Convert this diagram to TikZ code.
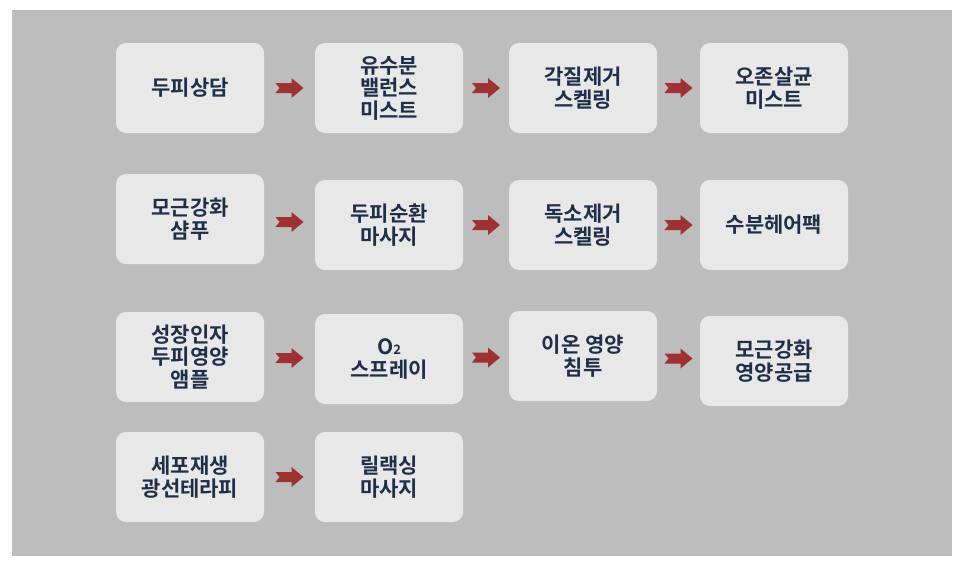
\documentclass[tikz,border=0pt]{standalone}
\usepackage{fontspec}
\setmainfont{Noto Sans CJK KR}[BoldFont={Noto Sans CJK KR Bold}]
\usetikzlibrary{calc}
\definecolor{boxgray}{HTML}{E8E8E8}
\definecolor{bggray}{HTML}{BDBDBD}
\definecolor{txtblue}{HTML}{1F2F4A}
\definecolor{arrred}{HTML}{9E3232}
\tikzset{
  stepbox/.style={fill=boxgray, rounded corners=10pt, minimum width=148pt, minimum height=90pt,
    align=center, text=txtblue, font=\fontsize{21}{22.5}\selectfont\bfseries, inner sep=2pt},
}
\newcommand{\flowarr}[2]{%
  \fill[arrred] let \p1=($(#1.east)!0.5!(#2.west)$) in
    ($(\x1-14,\y1-5)$) -- ($(\x1+2,\y1-5)$) -- ($(\x1+2,\y1-10)$) -- ($(\x1+14,\y1)$)
    -- ($(\x1+2,\y1+10)$) -- ($(\x1+2,\y1+5)$) -- ($(\x1-14,\y1+5)$) -- ($(\x1-10,\y1)$) -- cycle;}
\begin{document}
\begin{tikzpicture}[x=1pt,y=-1pt]
  \useasboundingbox (0,0) rectangle (966,566);
  \fill[bggray] (12,10) rectangle (952,556);

  \node[stepbox] (a1) at (190,88)  {두피상담};
  \node[stepbox] (a2) at (389,88)  {유수분\\밸런스\\미스트};
  \node[stepbox] (a3) at (583,88)  {각질제거\\스켈링};
  \node[stepbox] (a4) at (774,88)  {오존살균\\미스트};

  \node[stepbox] (b1) at (190,219) {모근강화\\샴푸};
  \node[stepbox] (b2) at (389,225) {두피순환\\마사지};
  \node[stepbox] (b3) at (583,225) {독소제거\\스켈링};
  \node[stepbox] (b4) at (774,225) {수분헤어팩};

  \node[stepbox] (c1) at (190,357) {성장인자\\두피영양\\앰플};
  \node[stepbox] (c2) at (389,359) {O{\fontsize{13}{13}\selectfont 2}\\스프레이};
  \node[stepbox] (c3) at (583,356) {이온 영양\\침투};
  \node[stepbox] (c4) at (774,361) {모근강화\\영양공급};

  \node[stepbox] (d1) at (190,477) {세포재생\\광선테라피};
  \node[stepbox] (d2) at (389,477) {릴랙싱\\마사지};

  \flowarr{a1}{a2} \flowarr{a2}{a3} \flowarr{a3}{a4}
  \flowarr{b1}{b2} \flowarr{b2}{b3} \flowarr{b3}{b4}
  \flowarr{c1}{c2} \flowarr{c2}{c3} \flowarr{c3}{c4}
  \flowarr{d1}{d2}
\end{tikzpicture}
\end{document}
